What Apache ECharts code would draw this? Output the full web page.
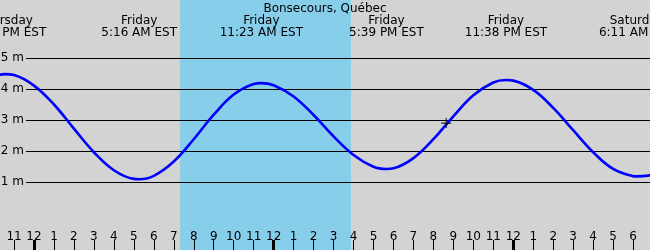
<!DOCTYPE html>
<html><head><meta charset="utf-8">
<script src="https://cdn.jsdelivr.net/npm/echarts@6/dist/echarts.min.js"></script>
<style>html,body{margin:0;padding:0;background:#d3d3d3}#c{width:650px;height:250px}</style>
</head><body><div id="c"></div>
<script>
// Hours measured from Friday 00:00 EST
const tideHours   = [-2, -1.45, -1, 0, 1, 2, 3, 4, 5, 5.27, 6, 7, 8, 9, 10, 11, 11.38, 12, 13, 14, 15, 16, 17, 17.65, 18, 19, 20, 21, 22, 23, 23.63, 24, 25, 26, 27, 28, 29, 30, 30.18, 31];
const tideHeights = [4.42, 4.48, 4.45, 4.11, 3.50, 2.72, 1.96, 1.38, 1.10, 1.09, 1.20, 1.66, 2.38, 3.17, 3.82, 4.16, 4.19, 4.12, 3.76, 3.16, 2.47, 1.87, 1.49, 1.42, 1.44, 1.77, 2.38, 3.12, 3.80, 4.21, 4.29, 4.27, 3.97, 3.39, 2.67, 1.96, 1.42, 1.19, 1.18, 1.23];
const extremeHours = [-1.45, 5.2667, 11.3833, 17.65, 23.6333, 30.1833];
const extremeDays  = ['Thursday', 'Friday', 'Friday', 'Friday', 'Friday', 'Saturday'];
const extremeTimes = ['10:33 PM EST', '5:16 AM EST', '11:23 AM EST', '5:39 PM EST', '11:38 PM EST', '6:11 AM EST'];
const sunrise = 7.32, sunset = 15.87;
const nowHour = 20.64, nowHeight = 2.90;
const hourTicks = [];
for (let h = -1; h <= 30; h++) hourTicks.push(h);
const noonMidnight = [0, 12, 24];
const yLevels = [1, 2, 3, 4, 5];
const title = 'Bonsecours, Québec';

const PXH = 19.97, X0 = 34; // px per hour, x of Friday midnight
const xMin = -X0 / PXH, xMax = (650 - X0) / PXH;
const yMin = -37 / 31, yMax = 213 / 31;
const font = 'DejaVu Sans';
const noBounds = { containLabel: false, outerBoundsMode: 'none' };

const chart = echarts.init(document.getElementById('c'));
chart.setOption({
  backgroundColor: '#d3d3d3',
  animation: false,
  title: { text: title, left: 'center', top: -2, textStyle: { fontFamily: font, fontSize: 12, fontWeight: 'normal', color: '#000' } },
  grid: [
    Object.assign({ left: 0, right: 0, top: 0, bottom: 0 }, noBounds),
    Object.assign({ left: 26, right: 0, top: 58, bottom: 68 }, noBounds),
    Object.assign({ left: 0, right: 0, top: 0, bottom: 0 }, noBounds),
    Object.assign({ left: 0, right: 0, top: 0, bottom: 0 }, noBounds)
  ],
  xAxis: [
    { type: 'value', gridIndex: 0, min: xMin, max: xMax, position: 'bottom', z: 4,
      axisLine: { show: false, onZero: false }, splitLine: { show: false },
      axisTick: { show: true, inside: true, length: 10, customValues: hourTicks, lineStyle: { color: '#000', width: 1 } },
      axisLabel: { show: true, inside: true, margin: 7, customValues: hourTicks, hideOverlap: false, fontFamily: font, fontSize: 12, color: '#000',
        formatter: v => { const h = ((Math.round(v) % 12) + 12) % 12; return String(h === 0 ? 12 : h); } } },
    { type: 'value', gridIndex: 2, min: xMin, max: xMax, position: 'bottom', z: 4,
      axisLine: { show: false, onZero: false }, splitLine: { show: false },
      axisTick: { show: true, inside: true, length: 10, customValues: noonMidnight, lineStyle: { color: '#000', width: 3 } },
      axisLabel: { show: false } },
    { type: 'value', gridIndex: 3, min: xMin, max: xMax, position: 'top', z: 4,
      axisLine: { show: false, onZero: false }, splitLine: { show: false }, axisTick: { show: false },
      axisLabel: { show: true, inside: true, margin: 15, customValues: extremeHours, hideOverlap: false, fontFamily: font, fontSize: 12, lineHeight: 12, color: '#000',
        formatter: v => { let i = 0, d = 1e9; extremeHours.forEach((e, k) => { if (Math.abs(e - v) < d) { d = Math.abs(e - v); i = k; } }); return extremeDays[i] + '\n' + extremeTimes[i]; } } },
    { type: 'value', gridIndex: 1, min: 0, max: 1, show: false }
  ],
  yAxis: [
    { type: 'value', gridIndex: 0, min: yMin, max: yMax, show: false },
    { type: 'value', gridIndex: 1, min: 1, max: 5, interval: 1, z: 3,
      axisLine: { show: false }, axisTick: { show: false },
      splitLine: { show: true, lineStyle: { color: '#000', width: 1 } },
      axisLabel: { margin: 2, fontFamily: font, fontSize: 12, color: '#000', formatter: '{value} m' } },
    { type: 'value', gridIndex: 2, min: 0, max: 1, show: false },
    { type: 'value', gridIndex: 3, min: 0, max: 1, show: false }
  ],
  series: [
    { type: 'line', xAxisIndex: 0, yAxisIndex: 0, data: [], z: 1, silent: true,
      markArea: { silent: true, itemStyle: { color: '#87ceeb', opacity: 1 }, data: [[{ xAxis: sunrise }, { xAxis: sunset }]] } },
    { type: 'line', xAxisIndex: 3, yAxisIndex: 1, data: [] },
    { type: 'line', xAxisIndex: 1, yAxisIndex: 2, data: [] },
    { type: 'line', xAxisIndex: 2, yAxisIndex: 3, data: [] },
    { type: 'line', xAxisIndex: 0, yAxisIndex: 0, z: 5, smooth: 0.4, showSymbol: false,
      lineStyle: { color: '#0000ff', width: 2.6 },
      data: tideHours.map((h, i) => [h, tideHeights[i]]) },
    { type: 'scatter', xAxisIndex: 0, yAxisIndex: 0, z: 6,
      symbol: 'path://M4,0H5V4H9V5H5V9H4V5H0V4H4Z', symbolSize: 10,
      itemStyle: { color: '#000' }, data: [[nowHour, nowHeight]] }
  ]
});
</script></body></html>
